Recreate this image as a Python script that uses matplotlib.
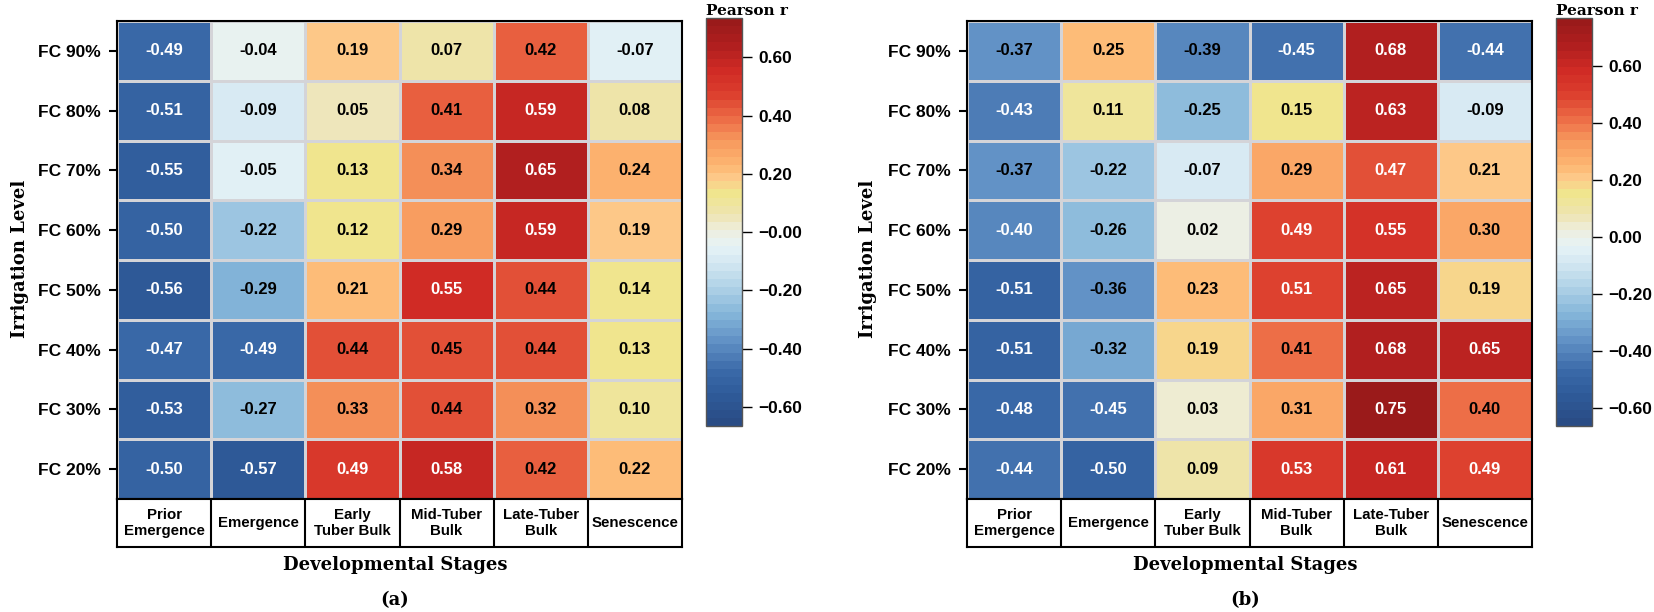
import numpy as np
import matplotlib.pyplot as plt
from matplotlib.colors import LinearSegmentedColormap

stages = ["Prior\nEmergence", "Emergence", "Early\nTuber Bulk",
          "Mid-Tuber\nBulk", "Late-Tuber\nBulk", "Senescence"]
levels = ["FC 90%", "FC 80%", "FC 70%", "FC 60%",
          "FC 50%", "FC 40%", "FC 30%", "FC 20%"]

# (a)
r_a = [[-0.49, -0.04, 0.19, 0.07, 0.42, -0.07],
       [-0.51, -0.09, 0.05, 0.41, 0.59, 0.08],
       [-0.55, -0.05, 0.13, 0.34, 0.65, 0.24],
       [-0.50, -0.22, 0.12, 0.29, 0.59, 0.19],
       [-0.56, -0.29, 0.21, 0.55, 0.44, 0.14],
       [-0.47, -0.49, 0.44, 0.45, 0.44, 0.13],
       [-0.53, -0.27, 0.33, 0.44, 0.32, 0.10],
       [-0.50, -0.57, 0.49, 0.58, 0.42, 0.22]]

# (b)
r_b = [[-0.37, 0.25, -0.39, -0.45, 0.68, -0.44],
       [-0.43, 0.11, -0.25, 0.15, 0.63, -0.09],
       [-0.37, -0.22, -0.07, 0.29, 0.47, 0.21],
       [-0.40, -0.26, 0.02, 0.49, 0.55, 0.30],
       [-0.51, -0.36, 0.23, 0.51, 0.65, 0.19],
       [-0.51, -0.32, 0.19, 0.41, 0.68, 0.65],
       [-0.48, -0.45, 0.03, 0.31, 0.75, 0.40],
       [-0.44, -0.50, 0.09, 0.53, 0.61, 0.49]]

range_a = (-0.665, 0.735)
range_b = (-0.665, 0.77)

cbar_ticks = [-0.6, -0.4, -0.2, 0.0, 0.2, 0.4, 0.6]
cbar_labels_a = ["\u22120.60", "\u22120.40", "\u22120.20", "\u22120.00", "0.20", "0.40", "0.60"]
cbar_labels_b = ["\u22120.60", "\u22120.40", "\u22120.20", "0.00", "0.20", "0.40", "0.60"]

sans = "Liberation Sans"
serif = "DejaVu Serif"
W, H = 1654, 612

# red-yellow-blue map as it looks in the paper figure, 50 steps
stops = [(0.00, "#2a4c85"), (0.07, "#2f5b9a"), (0.13, "#3b6aa9"),
         (0.20, "#6090c5"), (0.27, "#84b5d9"), (0.33, "#acd0e6"),
         (0.40, "#d5e8f2"), (0.44, "#e6f3f6"), (0.48, "#eeeedd"),
         (0.52, "#eee4b0"), (0.57, "#efe68e"), (0.61, "#fdc98a"),
         (0.64, "#fdb872"), (0.70, "#f79a5e"), (0.76, "#ec6a45"),
         (0.82, "#dc3e2e"), (0.88, "#cf2a25"), (0.94, "#b01f1f"),
         (1.00, "#9a1a1a")]
cmap = LinearSegmentedColormap.from_list("rdylbu_paper", stops, N=50)

fig = plt.figure(figsize=(W / 100, H / 100), dpi=100)


def panel(data, vr, cb_labels, x0, cb_x0, ylab_x, tag):
    data = np.array(data)
    ax = fig.add_axes([x0 / W, 1 - 499 / H, 565 / W, 478 / H])
    mesh = ax.pcolormesh(data, cmap=cmap, vmin=vr[0], vmax=vr[1],
                         edgecolors="#d4d4d8", linewidth=0.8)
    ax.set_xlim(0, 6)
    ax.set_ylim(8, 0)
    ax.set_xticks([])
    ax.set_yticks(np.arange(8) + 0.5)
    ax.set_yticklabels(levels, fontfamily=sans, fontweight="bold", fontsize=12.5)
    ax.tick_params(axis="y", length=6, width=1.5, pad=5.5)
    for s in ax.spines.values():
        s.set_linewidth(1.5)
    for i in range(8):
        for j in range(6):
            v = data[i, j]
            col = "white" if (v >= 0.47 or v <= -0.40) else "black"
            ax.text(j + 0.5, i + 0.5, f"{v:.2f}", ha="center", va="center",
                    color=col, fontfamily=sans, fontweight="bold", fontsize=12)

    # stage boxes under the heatmap
    bx = fig.add_axes([x0 / W, 1 - 547 / H, 565 / W, 48 / H])
    bx.set_xlim(0, 6)
    bx.set_ylim(0, 1)
    bx.set_xticks([])
    bx.set_yticks([])
    for s in bx.spines.values():
        s.set_linewidth(1.5)
    for j in range(1, 6):
        bx.axvline(j, color="black", lw=1.5)
    for j, st in enumerate(stages):
        bx.text(j + 0.5, 0.5, st, ha="center", va="center", fontfamily=sans,
                fontweight="bold", fontsize=10.8, linespacing=1.25)

    cax = fig.add_axes([cb_x0 / W, 1 - 426 / H, 36 / W, 408 / H])
    cb = fig.colorbar(mesh, cax=cax)
    cb.outline.set_edgecolor("#555555")
    cb.outline.set_linewidth(1)
    cb.set_ticks(cbar_ticks)
    cb.set_ticklabels(cb_labels)
    cax.tick_params(length=7, width=1, pad=4.5)
    for t in cax.get_yticklabels():
        t.set_fontfamily(sans)
        t.set_fontweight("bold")
        t.set_fontsize(12.5)
    cax.set_title("Pearson r", fontfamily=serif, fontweight="bold",
                  fontsize=11, pad=2, loc="left")

    cx = (x0 + 278) / W
    fig.text(ylab_x / W, 1 - 259 / H, "Irrigation Level", rotation=90,
             ha="center", va="center", fontfamily=serif, fontweight="bold",
             fontsize=13)
    fig.text(cx, 1 - 565 / H, "Developmental Stages", ha="center", va="center",
             fontfamily=serif, fontweight="bold", fontsize=13)
    fig.text(cx, 1 - 600 / H, tag, ha="center", va="center",
             fontfamily=serif, fontweight="bold", fontsize=13)


panel(r_a, range_a, cbar_labels_a, 117, 706, 20, "(a)")
panel(r_b, range_b, cbar_labels_b, 967, 1556, 868, "(b)")

plt.savefig("out.png", dpi=100)
